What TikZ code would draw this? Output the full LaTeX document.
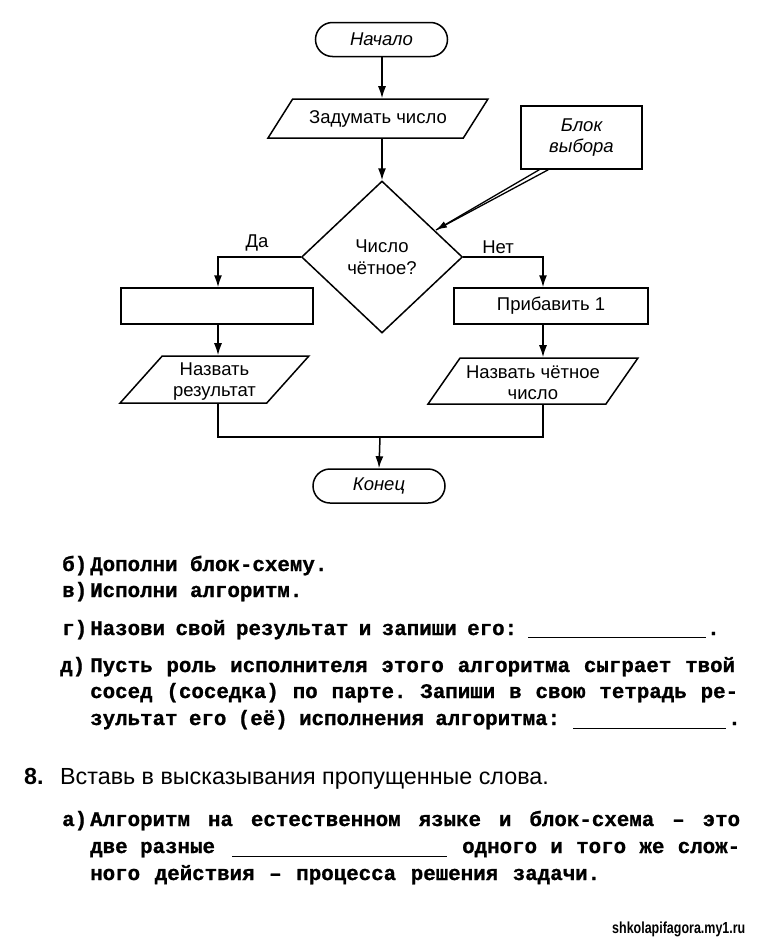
\documentclass[tikz,border=0pt]{standalone}
\usepackage{fontspec}
\setmainfont{Liberation Sans}
\newfontfamily\monob[FakeBold=1]{Liberation Mono Bold}
\usetikzlibrary{arrows.meta,shapes.geometric,calc}
\newcommand\fsz{\fontsize{18.5}{21}\selectfont}
\newcommand\twf{\monob\fontsize{20.8}{24}\selectfont}
\newcommand\jline[2]{\makebox[#1][s]{\spaceskip=12.5pt plus 1fil minus 6pt\relax\xspaceskip=\spaceskip #2}}
\tikzset{
  flow/.style={draw, line width=1.5pt, font=\fsz},
  term/.style={flow, rectangle, rounded corners=17pt, minimum height=34pt, minimum width=132pt, font=\fsz\itshape},
  proc/.style={flow, rectangle, minimum height=36pt},
  io/.style={flow, trapezium, trapezium stretches=true, inner sep=1pt, align=center},
  dec/.style={flow, diamond, inner sep=0pt, align=center},
  arr/.style={line width=1.5pt, -{Latex[length=12pt,width=8pt]}},
  ln/.style={line width=1.5pt},
  lbl/.style={font=\fsz, inner sep=0pt},
  tw/.style={font=\twf, anchor=base west, inner sep=0pt},
  blank/.style={line width=0.9pt},
}
\begin{document}
\begin{tikzpicture}[x=1pt,y=-1pt]
\useasboundingbox[fill=white] (0,0) rectangle (768,940);
% flowchart
\node[term] (start) at (381.5,39.5) {Начало};
\node[io, trapezium left angle=42.9, trapezium right angle=137.1, minimum width=220pt, minimum height=39pt] (inp) at (378,118.5) {Задумать число};
\node[dec, minimum width=161pt, minimum height=152pt] (dec) at (382,257) {Число\\[1pt]чётное?};
\node[proc, minimum width=192pt] (lbox) at (217,306) {};
\node[proc, minimum width=194pt] (rbox) at (551,306) {Прибавить 1};
\node[io, trapezium left angle=51.4, trapezium right angle=128.6, minimum width=189pt, minimum height=47pt] (lpar) at (214.5,379.5) {\rule{0pt}{16pt}Назвать\\результат};
\node[io, trapezium left angle=52.7, trapezium right angle=127.3, minimum width=210pt, minimum height=46pt] (rpar) at (533,381) {\rule{0pt}{16pt}Назвать чётное\\число};
\node[term] (end) at (379,486) {Конец};
\node[flow, rectangle, minimum width=121pt, minimum height=63pt, align=center, font=\fsz\itshape] (blk) at (581.5,137.5) {Блок\\выбора};

\node[lbl] (da) at (257,243) {Да};
\node[lbl] (net) at (498,247) {Нет};

\coordinate (cx) at (382,0);
\draw[arr] (cx |- start.south) -- (cx |- inp.north);
\draw[arr] (cx |- inp.south) -- (dec.north);
\coordinate (lx) at (218,0);
\coordinate (rx) at (543,0);
\draw[arr] (dec.west) -| (lx |- lbox.north);
\draw[arr] (dec.east) -| (rx |- rbox.north);
\draw[arr] (lx |- lbox.south) -- (lx |- lpar.north);
\draw[arr] (rx |- rbox.south) -- (rx |- rpar.north);
\coordinate (jl) at (218,437);
\coordinate (jr) at (543,437);
\coordinate (jm) at (380,437);
\draw[ln] (jl |- lpar.south) -- (jl) -- (jr) -- (jr |- rpar.south);
\draw[arr] (jm) -- (end.north);
% callout
\coordinate (tip) at (436,230);
\coordinate (ca) at ($(blk.south west)+(19,0)$);
\coordinate (cb) at ($(blk.south west)+(28,0)$);
\draw[line width=1.3pt] (cb) -- (tip);
\draw[line width=1.3pt, -{Latex[length=11pt,width=7pt]}] (ca) -- (tip);

% text part
\node[tw] (b1) at (62,571) {б)};
\node[tw] (b2) at (90,571) {Дополни блок-схему.};
\node[tw] (v1) at (62,597) {в)};
\node[tw] (v2) at (90,597) {Исполни алгоритм.};
\node[tw] (g1) at (62,635) {г)};
\node[tw] (g2) at (90,635) {\jline{427pt}{Назови свой результат и запиши его:}};
\coordinate (g3) at (528,637);
\coordinate (g4) at (706,637);
\draw[blank] (g3) -- (g4);
\node[tw] (g5) at (707,635) {.};
\node[tw] (d1) at (60,672) {д)};
\node[tw] (d2) at (90,672) {\jline{645pt}{Пусть роль исполнителя этого алгоритма сыграет твой}};
\node[tw] (d3) at (90,698) {\jline{648pt}{сосед (соседка) по парте. Запиши в свою тетрадь ре-}};
\node[tw] (d4) at (90,725) {\jline{470pt}{зультат его (её) исполнения алгоритма:}};
\coordinate (d5) at (573,728);
\coordinate (d6) at (726,728);
\draw[blank] (d5) -- (d6);
\node[tw] (d7) at (728,725) {.};

\node[font=\fontsize{23.3}{27}\selectfont\bfseries, anchor=base west, inner sep=0pt] (n8) at (24,784) {8.};
\node[font=\fontsize{23.3}{27}\selectfont, anchor=base west, inner sep=0pt] (t8) at (60,784) {Вставь в высказывания пропущенные слова.};
\node[tw] (a1) at (62,826) {а)};
\node[tw] (a2) at (90,826) {\jline{650pt}{Алгоритм на естественном языке и блок-схема – это}};
\node[tw] (a3) at (90,853) {две разные};
\coordinate (a4) at (232,856);
\coordinate (a5) at (447,856);
\draw[blank] (a4) -- (a5);
\node[tw] (a6) at (462,853) {\jline{278pt}{одного и того же слож-}};
\node[tw] (a7) at (90,880) {\jline{510pt}{ного действия – процесса решения задачи.}};

\node[font=\fontsize{16}{18}\selectfont\bfseries, anchor=base west, inner sep=0pt] (wm) at (612,933) {\scalebox{0.78}[1]{shkolapifagora.my1.ru}};
\end{tikzpicture}
\end{document}
